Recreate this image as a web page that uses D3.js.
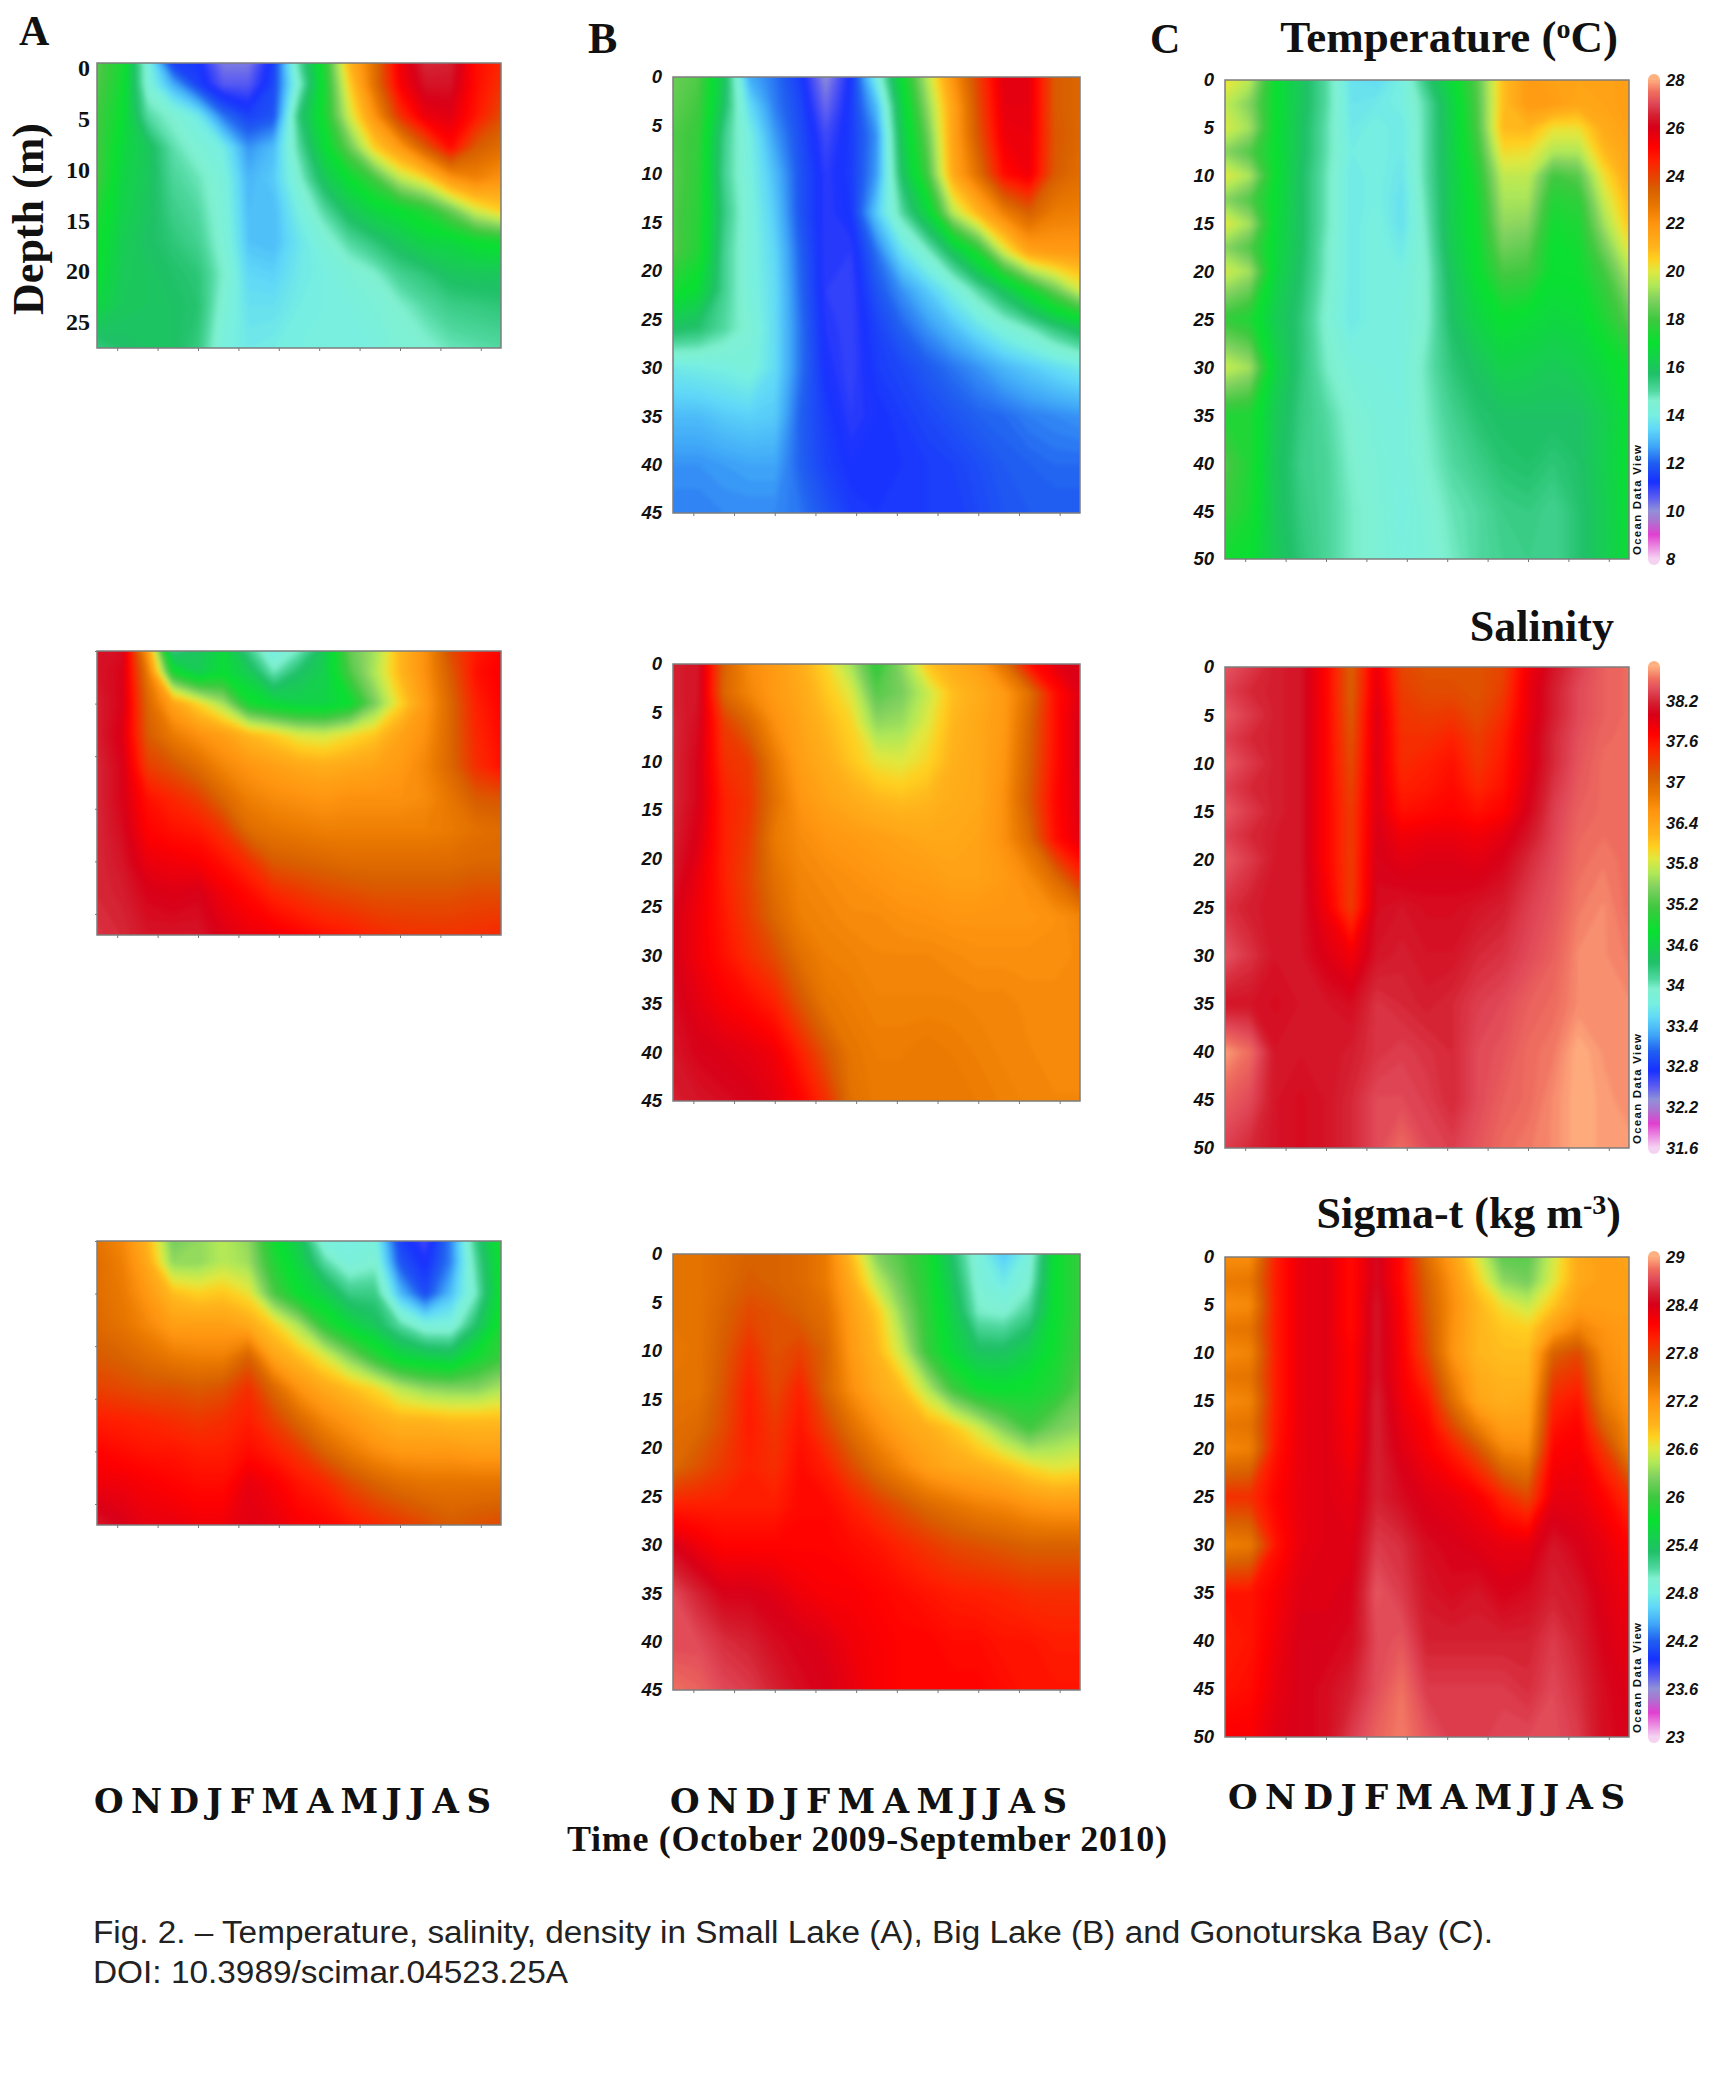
<!DOCTYPE html>
<html>
<head>
<meta charset="utf-8">
<title>Temperature, salinity, density</title>
<script src="https://d3js.org/d3.v7.min.js"></script>
<style>
  html, body { margin: 0; background: #fff; }
  svg { display: block; }
  .serif { font-family: "Liberation Serif", serif; font-weight: bold; fill: #111; }
  .tick-label text { font-family: "Liberation Sans", sans-serif; font-weight: bold; font-style: italic; font-size: 18.5px; fill: #111; }
  .tick-serif text { font-family: "Liberation Serif", serif; font-weight: bold; font-style: normal; font-size: 24px; }
  .bar-label text { font-size: 16.5px; }
  .caption { font-family: "Liberation Sans", sans-serif; font-size: 31px; fill: #222; }
</style>
</head>
<body>
<div id="chart"></div>
<script>
// ******* Data *******
const months = ["O","N","D","J","F","M","A","M","J","J","A","S"];
const depthsA = [0,2,5,8,11,14,17,20,23,27];
const depthsB = [0,3,6,10,14,18,22,26,30,35,40,45];
const depthsC = [0,2.5,5,7.5,10,12.5,15,17.5,20,25,30,35,40,45,50];

const tempA = [
  [18.3,17.3,14.2,11.5,11.3,10.2,10.2,11.5,15,17.5,21,23,25.5,26.6,26.5,25,24.5],
  [18.2,17.2,14.3,12.8,11.5,10.6,10.6,11.6,14.5,17.3,20.5,23,25.3,26.3,26.3,25,24.3],
  [18,17,15,14.5,13.8,12.2,11.5,11.8,15.5,17.3,19.8,22,24.3,25.6,25.8,24.8,23.8],
  [18,16.7,16,14.9,14.4,13.9,12.5,13,15,16.8,18.5,20.5,21.8,23.5,25,23.5,23],
  [18,16.5,16,15.1,14.8,14.2,12.9,13.2,14.5,16,17,18,19.5,20.3,21.8,22.4,22],
  [17.5,16.4,15.9,15.3,15,14.3,13,13,14,15,16,16.6,17,17.5,18.5,19.8,20.5],
  [17.2,16.2,15.8,15.5,15.2,14.4,13.1,13,13.7,14.3,15,15.5,16,16.5,16.6,17,17.2],
  [17,16.1,15.9,15.7,15.5,14.6,13.4,13.3,13.8,14,14.3,14.6,15.2,15.5,15.9,16,16],
  [16.6,16,15.9,15.8,15.6,14.4,13.6,13.6,13.9,14,14.1,14.3,14.6,15,15.3,15.4,15.5],
  [15.4,15.7,15.8,15.8,15.4,14.1,13.8,13.9,14,14,14,14.1,14.4,14.5,14.8,14.9,15]
];
const tempB = [
  [18.5,18.2,16,12.8,12.2,11.4,10,11.3,14,17,19.5,22,24,25.8,25.7,23.5,23.2],
  [18.4,18,15.8,13.5,12.3,11.6,10.4,11.4,13,16.5,19,21.5,23.8,25.7,25.7,23.5,23.2],
  [18.2,17.8,15.3,14,12.6,11.7,10.8,11.4,12.5,16.2,18.5,21.5,23.6,25.5,25.6,23.6,23.2],
  [18.3,17.7,15.2,14.1,13,11.8,11,11.4,12.6,15.8,18,21.3,23,25,25.5,23.5,23],
  [18.2,17.6,15.4,14.2,13.2,11.8,11,11.3,13.2,15,16.6,19.5,21,22.5,23.4,22.6,22.5],
  [18.2,17.5,15.2,14.2,13.4,12,11,11,12.2,13.6,14.6,16,17.5,19.8,21.5,21.8,21.8],
  [17.3,16.8,15.2,14.2,13.5,12.1,11,10.9,11.8,12.5,13.2,14,15,16,17.2,18.5,19.8],
  [15.8,15.6,15,14.4,13.5,12.2,11.1,10.9,11.5,12,12.5,13,13.6,14.2,14.7,15.4,16],
  [13.8,13.9,14,14.2,13.5,12.2,11.2,10.9,11.4,11.6,11.9,12.2,12.5,12.9,13.2,13.5,13.8],
  [13,13,13.2,13.3,13.2,12,11.4,11,11.2,11.4,11.6,11.8,12,12.1,12.3,12.4,12.5],
  [12.5,12.5,12.6,12.7,12.7,12,11.5,11.2,11.2,11.3,11.4,11.5,11.7,11.9,12,12.1,12.1],
  [12.3,12.3,12.4,12.4,12.4,12.2,11.8,11.4,11.3,11.3,11.4,11.4,11.6,11.8,11.9,11.9,11.9]
];
const tempC = [
  [20.2,19.5,17,16,15,13.6,13.5,14,15.5,16.8,18.3,20.8,21.8,21.6,21.5,21.5,21.7],
  [19.6,18.8,17,16,15,13.7,13.8,14,15,16.5,18.2,20.8,21.8,21.7,21.4,21.5,21.7],
  [19.9,19.2,17,15.9,14.9,13.8,14,13.8,15,16.4,18.1,20.9,21,20.2,20.2,21.3,21.6],
  [18.9,18.2,17,15.9,14.9,13.9,14,13.8,15,16.4,17.8,20.3,20.2,19.4,19.4,20.9,21.5],
  [20,19.3,17,15.8,14.8,13.8,14,13.7,15,16.3,17.5,19.6,19.6,18,18.3,20.2,21.4],
  [18.9,18.2,16.9,15.8,14.8,13.8,14,13.6,14.9,16.3,17.3,19.3,19.3,17.5,17.7,19.7,21],
  [20,19.2,16.8,15.8,14.8,13.8,14.1,13.6,14.8,16.3,17.2,19,18.9,17.2,17.4,19.2,20.7],
  [18.9,18.2,16.7,15.8,14.7,13.8,14.1,13.8,14.7,16.2,17.1,18.6,18.4,17,17.2,18.6,20.1],
  [19.8,19.2,16.6,15.7,14.7,13.8,14.1,14,14.6,16,17,18.1,18,17,17.1,18,19.4],
  [17.8,17.4,16.2,15.5,14.5,13.8,14.1,14.1,14.6,15.8,16.5,17,16.8,16.6,16.7,17.4,18.3],
  [19.7,19.2,16.5,15.5,14.7,14.2,14.1,14.1,14.8,15.5,15.9,16.4,16.3,16.1,16.3,16.7,17.2],
  [17.5,17.4,16.1,15.4,15,14.5,14.2,14.1,14.7,15.2,15.6,15.8,15.8,15.8,15.8,16.3,16.9],
  [18.2,17.4,16,15.3,15.1,14.6,14.3,14.1,14.6,15,15.3,15.6,15.7,15.5,15.7,16.3,17],
  [17.9,17.3,16,15.4,15.1,14.7,14.4,14,14.4,14.8,15,15.3,15.4,15.2,15.6,16.2,16.9],
  [17.2,17,16.1,15.5,15.1,14.7,14.4,14.1,14.3,14.7,15,15.2,15.3,15.2,15.6,16.2,16.8]
];

const salA = [
  [38.1,38.05,36.5,34.2,34.4,34.7,34.2,33.7,34,34.5,35.3,35.6,36.2,36.6,37.2,37.55,37.7],
  [38.1,38,36.8,34.9,34.5,34.75,34.5,34,34.35,34.55,35.2,35.65,36.2,36.6,37.1,37.6,37.75],
  [38.15,38,37,36.4,36,35.6,34.9,34.7,34.6,34.6,34.8,35.4,36,36.5,37,37.5,37.7],
  [38.15,37.95,37.1,36.8,36.6,36.45,36.2,36.05,35.85,35.8,35.95,36.1,36.4,36.6,37,37.45,37.65],
  [38.2,38,37.3,37.15,36.95,36.7,36.55,36.45,36.35,36.3,36.35,36.4,36.5,36.7,37,37.4,37.6],
  [38.2,38,37.6,37.45,37.3,37,36.75,36.65,36.6,36.55,36.6,36.6,36.6,36.65,36.85,37.1,37.15],
  [38.2,38.05,37.7,37.6,37.55,37.35,36.95,36.85,36.8,36.75,36.75,36.75,36.75,36.75,36.8,36.9,36.95],
  [38.2,38.1,37.85,37.8,37.75,37.6,37.4,37.1,37.05,37,36.95,36.95,36.95,36.95,36.95,37,37],
  [38.2,38.15,38,37.95,38,37.8,37.65,37.45,37.35,37.25,37.2,37.15,37.15,37.15,37.15,37.2,37.2],
  [38.25,38.2,38.1,38.1,38.1,37.95,37.85,37.8,37.7,37.6,37.55,37.45,37.4,37.38,37.38,37.4,37.45]
];
const salB = [
  [38.15,38.1,37.05,36.65,36.5,36.3,36,35.6,35.05,35.5,36.1,36.3,36.45,36.9,37.6,37.9,38],
  [38.15,38.1,37,36.7,36.5,36.35,36.1,35.85,35.25,35.4,35.75,36.15,36.3,36.5,36.9,37.6,37.95],
  [38.2,38.05,37.3,37,36.6,36.4,36.2,36,35.5,35.55,35.85,36.2,36.35,36.5,37,37.6,38],
  [38.2,38,37.4,37.3,36.8,36.45,36.3,36.1,35.9,35.85,36,36.25,36.35,36.55,37.05,37.6,38],
  [38.2,38,37.5,37.35,36.9,36.55,36.4,36.3,36.2,36.15,36.2,36.3,36.35,36.6,37.1,37.65,37.95],
  [38.15,37.95,37.5,37.3,36.8,36.65,36.55,36.5,36.45,36.4,36.35,36.35,36.4,36.6,36.95,37.6,37.9],
  [38.1,37.85,37.5,37.25,36.9,36.7,36.65,36.6,36.55,36.5,36.48,36.42,36.42,36.5,36.65,36.95,37.4],
  [38,37.8,37.55,37.3,37,36.75,36.7,36.65,36.65,36.6,36.58,36.55,36.55,36.55,36.55,36.6,36.7],
  [38,37.8,37.6,37.4,37.2,36.9,36.75,36.72,36.68,36.68,36.68,36.65,36.62,36.62,36.62,36.62,36.65],
  [38.05,37.9,37.75,37.65,37.5,37.15,36.85,36.78,36.72,36.72,36.72,36.72,36.7,36.7,36.66,36.66,36.66],
  [38.1,38,37.95,37.9,37.8,37.5,37.15,36.85,36.78,36.78,36.82,36.78,36.74,36.7,36.68,36.66,36.66],
  [38.15,38.1,38.05,38,37.9,37.7,37.4,36.9,36.8,36.8,36.8,36.82,36.78,36.74,36.7,36.68,36.68]
];
const salC = [
  [38.4,38.28,38.15,38.1,37.7,37.05,37.85,37.25,37.15,37.15,37.15,37.25,37.8,38.1,38.3,38.45,38.5],
  [38.32,38.2,38.15,38.1,37.7,37.05,37.9,37.3,37.2,37.2,37.15,37.3,37.85,38.15,38.35,38.45,38.5],
  [38.42,38.28,38.15,38.1,37.7,37.1,37.95,37.35,37.3,37.35,37.2,37.4,37.85,38.15,38.35,38.45,38.5],
  [38.32,38.2,38.15,38.1,37.7,37.15,37.95,37.4,37.4,37.5,37.3,37.5,37.9,38.2,38.38,38.48,38.5],
  [38.42,38.28,38.15,38.1,37.7,37.2,37.95,37.42,37.5,37.6,37.35,37.55,37.9,38.2,38.4,38.5,38.5],
  [38.32,38.2,38.15,38.1,37.7,37.25,37.95,37.5,37.55,37.65,37.45,37.6,37.95,38.25,38.42,38.5,38.5],
  [38.42,38.28,38.15,38.1,37.7,37.3,37.95,37.6,37.65,37.7,37.6,37.7,38,38.3,38.45,38.5,38.5],
  [38.32,38.2,38.13,38.1,37.7,37.3,37.98,37.8,37.85,37.85,37.8,37.9,38.1,38.32,38.48,38.52,38.5],
  [38.42,38.28,38.12,38.1,37.7,37.3,38,37.9,37.95,37.95,37.9,38,38.2,38.35,38.5,38.55,38.5],
  [38.25,38.15,38.1,38.1,37.8,37.3,38.05,38.1,38.05,38.05,38.1,38.15,38.3,38.4,38.55,38.6,38.5],
  [38.4,38.25,38.1,38.1,37.95,37.8,38.1,38.15,38.1,38.1,38.2,38.25,38.35,38.45,38.6,38.6,38.55],
  [38.1,38.1,38.05,38.1,38.1,38.05,38.25,38.2,38.15,38.2,38.3,38.35,38.45,38.5,38.6,38.6,38.6],
  [38.65,38.5,38.1,38.1,38.1,38.15,38.25,38.3,38.25,38.2,38.35,38.4,38.5,38.55,38.7,38.62,38.6],
  [38.45,38.35,38.1,38.05,38.1,38.2,38.35,38.35,38.3,38.2,38.35,38.45,38.5,38.6,38.7,38.65,38.6],
  [38.3,38.2,38.1,38.05,38.1,38.2,38.35,38.5,38.35,38.3,38.4,38.5,38.55,38.6,38.7,38.65,38.65]
];

const sigmaA = [
  [27.45,27.3,26.9,26.2,26.3,26.45,26.3,25.75,25.45,24.85,24.8,24.85,24.05,23.85,24.3,25.2,25.8],
  [27.5,27.35,27,26.3,26.3,26.45,26.35,25.85,25.55,25.1,24.85,24.95,24.15,23.95,24.3,25.1,25.75],
  [27.5,27.4,27.15,26.85,26.75,26.8,26.65,26.05,25.7,25.5,25.2,25.2,24.5,24.1,24.5,25,25.75],
  [27.55,27.45,27.3,27.1,27.1,27.1,27,26.75,26.4,25.9,25.6,25.4,25.1,24.85,24.85,25.3,25.8],
  [27.65,27.6,27.5,27.4,27.35,27.35,27.6,27.05,26.85,26.6,26.25,25.9,25.6,25.5,25.45,25.75,25.95],
  [27.8,27.75,27.7,27.7,27.65,27.7,27.9,27.55,27.2,27,26.85,26.7,26.45,26.3,26.25,26.25,26.4],
  [28,27.98,27.95,27.9,27.85,27.9,28,27.8,27.55,27.3,27.15,27,26.9,26.9,26.85,26.85,26.85],
  [28.15,28.1,28.05,28.05,28,28,28.1,28,27.85,27.6,27.4,27.25,27.15,27.15,27.15,27.1,27.1],
  [28.25,28.25,28.2,28.15,28.1,28.1,28.3,28.2,28.05,27.95,27.75,27.6,27.5,27.45,27.45,27.45,27.45],
  [28.5,28.4,28.3,28.3,28.25,28.25,28.35,28.3,28.2,28.15,28.05,27.95,27.85,27.75,27.65,27.7,27.75]
];
const sigmaB = [
  [27.45,27.45,27.55,27.6,27.6,27.55,27.4,26.85,26.25,26.05,25.8,25.3,24.85,24.55,24.85,25.7,25.95],
  [27.45,27.45,27.55,27.65,27.6,27.55,27.4,27,26.5,26.15,25.85,25.4,24.9,24.75,24.95,25.7,25.95],
  [27.45,27.45,27.6,27.75,27.7,27.6,27.5,27.1,26.8,26.3,25.9,25.5,25,24.95,25.15,25.7,25.95],
  [27.42,27.45,27.65,27.9,27.7,27.8,27.6,27.15,26.9,26.5,25.95,25.6,25.35,25.35,25.5,25.75,26],
  [27.45,27.45,27.7,28,27.75,27.98,27.6,27.25,27,26.85,26.45,26,25.75,25.7,25.75,25.85,26.1],
  [27.5,27.55,27.75,28.02,27.85,28.05,27.8,27.5,27.25,27.05,26.95,26.8,26.55,26.25,26,26.2,26.3],
  [27.55,27.7,27.85,27.98,27.9,28.1,28,27.75,27.5,27.3,27.1,27,26.95,26.85,26.7,26.6,26.65],
  [28,28,28,28,28,28.12,28.12,28,27.85,27.7,27.55,27.45,27.35,27.3,27.2,27.15,27.15],
  [28.4,28.25,28.15,28.15,28.15,28.15,28.15,28.1,28.05,27.95,27.85,27.75,27.7,27.65,27.6,27.6,27.6],
  [28.7,28.55,28.4,28.4,28.35,28.25,28.2,28.2,28.15,28.1,28.05,28,27.98,27.95,27.9,27.9,27.9],
  [28.7,28.7,28.6,28.55,28.45,28.4,28.35,28.25,28.2,28.15,28.15,28.1,28.1,28.05,28.05,28,28],
  [28.85,28.8,28.7,28.65,28.55,28.45,28.4,28.3,28.2,28.15,28.15,28.15,28.15,28.1,28.05,28.05,28.05]
];
const sigmaC = [
  [27.25,27.25,28,28.3,28.35,28.1,28.45,28.1,27.5,27.1,26.6,26.1,26.1,26.55,27,27.1,27.05],
  [27.4,27.42,28,28.3,28.35,28.1,28.45,28.1,27.6,27.2,26.75,26.3,26.2,26.6,27,27.1,27.1],
  [27.25,27.28,28,28.3,28.35,28.1,28.5,28.15,27.65,27.25,26.9,26.65,26.5,26.8,27.1,27.1,27.1],
  [27.42,27.45,28,28.3,28.35,28.1,28.5,28.18,27.7,27.22,26.9,26.8,26.75,27.1,27.35,27.2,27.12],
  [27.28,27.32,28,28.3,28.35,28.15,28.5,28.2,27.75,27.2,26.9,26.85,26.85,27.6,27.75,27.25,27.15],
  [27.42,27.45,28,28.3,28.35,28.15,28.5,28.22,27.9,27.35,26.98,26.9,26.9,27.8,27.9,27.32,27.18],
  [27.28,27.32,28,28.3,28.35,28.15,28.55,28.25,28.05,27.5,27.05,26.95,27,27.95,28.05,27.4,27.2],
  [27.42,27.45,28.02,28.3,28.35,28.18,28.55,28.3,28.15,27.75,27.35,27.1,27.1,28.05,28.15,27.6,27.28],
  [27.3,27.35,28.05,28.3,28.35,28.2,28.55,28.35,28.2,28,27.7,27.3,27.25,28.15,28.2,27.85,27.35],
  [27.9,27.9,28.15,28.3,28.35,28.3,28.55,28.45,28.35,28.3,28.2,27.95,27.75,28.3,28.3,28.15,27.9],
  [27.35,27.4,28.05,28.3,28.35,28.35,28.65,28.6,28.45,28.4,28.35,28.3,28.3,28.5,28.4,28.3,28.15],
  [28.05,28.05,28.2,28.35,28.35,28.4,28.75,28.65,28.5,28.45,28.5,28.4,28.45,28.55,28.5,28.35,28.25],
  [28,28.05,28.25,28.4,28.4,28.45,28.7,28.75,28.55,28.55,28.55,28.55,28.55,28.65,28.55,28.4,28.3],
  [28.05,28.1,28.3,28.4,28.45,28.55,28.72,28.85,28.65,28.65,28.65,28.65,28.6,28.7,28.6,28.45,28.35],
  [28.2,28.2,28.35,28.4,28.45,28.65,28.8,28.88,28.75,28.65,28.65,28.7,28.7,28.72,28.65,28.45,28.4]
];

const tempTicks = [28,26,24,22,20,18,16,14,12,10,8];
const salTicks = [38.2,37.6,37,36.4,35.8,35.2,34.6,34,33.4,32.8,32.2,31.6];
const sigmaTicks = [29,28.4,27.8,27.2,26.6,26,25.4,24.8,24.2,23.6,23];

// ******* Colour bar of the plots, as fractions of each variable's range *******
const rampStops = [0,.05,.08,.1,.125,.16,.2,.235,.27,.3,.33,.35,.385,.45,.5,.54,.57,.6,.625,.65,.7,.735,.77,.8,.83,.86,.9,.925,.95,.975,1];
const rampColors = ["#f6d2f2","#e040d0","#a878d0","#9090d8","#6060f0","#1830ff","#2060f0","#40a8f8","#60d8f8","#78f0e0","#80f0d0","#50d8a0","#20c068","#08e030","#40c840","#80d060","#b0e858","#e0e840","#ffd020","#ffb41c","#ff9410","#e87800","#d86000","#e84000","#ff2000","#ff0000","#d80018","#d42030","#e04858","#f07060","#ffb080"];
const ramp = d3.scaleLinear().domain(rampStops).range(rampColors).clamp(true);

// ******* Layout *******
const width = 1732, height = 2089;
const colX = {A: [97, 501], B: [673, 1080], C: [1225, 1629]};
const tempRange = [8, 28], salRange = [31.6, 38.7], sigmaRange = [23, 29];
const panels = [
  {col: "A", y: [63, 348],    depths: depthsA, values: tempA,  range: tempRange,  labels: "serif"},
  {col: "B", y: [77, 513],    depths: depthsB, values: tempB,  range: tempRange,  labels: "sans"},
  {col: "C", y: [80, 559],    depths: depthsC, values: tempC,  range: tempRange,  labels: "sans", bar: tempTicks},
  {col: "A", y: [651, 935],   depths: depthsA, values: salA,   range: salRange,   labels: "none"},
  {col: "B", y: [664, 1101],  depths: depthsB, values: salB,   range: salRange,   labels: "sans"},
  {col: "C", y: [667, 1148],  depths: depthsC, values: salC,   range: salRange,   labels: "sans", bar: salTicks},
  {col: "A", y: [1241, 1525], depths: depthsA, values: sigmaA, range: sigmaRange, labels: "none"},
  {col: "B", y: [1254, 1690], depths: depthsB, values: sigmaB, range: sigmaRange, labels: "sans"},
  {col: "C", y: [1257, 1737], depths: depthsC, values: sigmaC, range: sigmaRange, labels: "sans", bar: sigmaTicks}
];

const svg = d3.select("#chart").append("svg")
    .attr("width", width)
    .attr("height", height)
    .style("background", "#fff");

const defs = svg.append("defs");
const blur = defs.append("filter").attr("id", "soft")
    .attr("x", "-5%").attr("y", "-5%").attr("width", "110%").attr("height", "110%")
    .attr("color-interpolation-filters", "sRGB");
blur.append("feGaussianBlur").attr("stdDeviation", 2.2);

panels.forEach(function(p, i) { drawPanel(p, i); });

function drawPanel(p, i) {
  const [x0, x1] = colX[p.col];
  const [y0, y1] = p.y;
  const nRows = p.values.length, nCols = p.values[0].length;
  const maxDepth = p.depths[p.depths.length - 1];

  const x = d3.scaleLinear().domain([0, nCols - 1]).range([x0, x1]);
  const y = d3.scaleLinear().domain([0, maxDepth]).range([y0, y1]);
  const rowDepth = d3.scaleLinear().domain(d3.range(nRows)).range(p.depths);
  const frac = d3.scaleLinear().domain(p.range).range([0, 1]);
  const time = d3.scaleLinear().domain([0, 10]).range([x0, x1]);

  // d3.contours puts sample k at k + 0.5
  const project = d3.geoPath(d3.geoTransform({
    point: function(gx, gy) { this.stream.point(x(gx - 0.5), y(rowDepth(gy - 0.5))); }
  }));

  const step = (p.range[1] - p.range[0]) / 200;
  const thresholds = d3.range(p.range[0], p.range[1], step);
  const contours = d3.contours().size([nCols, nRows]).thresholds(thresholds)(p.values.flat());

  defs.append("clipPath").attr("id", "clip" + i)
    .append("rect").attr("x", x0).attr("y", y0).attr("width", x1 - x0).attr("height", y1 - y0);

  svg.append("g").attr("clip-path", "url(#clip" + i + ")")
    .append("g").attr("filter", "url(#soft)")
    .selectAll("path")
    .data(contours)
    .enter().append("path")
    .attr("d", project)
    .attr("fill", function(d) { return ramp(frac(d.value + step / 2)); });

  svg.append("rect")
    .attr("x", x0).attr("y", y0).attr("width", x1 - x0).attr("height", y1 - y0)
    .attr("fill", "none").attr("stroke", "#7d7d7d").attr("stroke-width", 1.5);

  // small month ticks under the frame
  svg.append("g").attr("transform", "translate(0," + y1 + ")")
    .call(d3.axisBottom(time).tickValues(d3.range(0.5, 10)).tickSize(3).tickFormat(""))
    .call(function(g) { g.select(".domain").remove(); g.selectAll("line").attr("stroke", "#777"); });

  // the top-left panel's labels sit a little tighter than its frame
  const isSerif = p.labels === "serif";
  const labelY = isSerif ? d3.scaleLinear().domain([0, 25]).range([68, 322]) : y;
  const left = svg.append("g").attr("transform", "translate(" + x0 + ",0)");
  left.attr("class", isSerif ? "tick-label tick-serif" : "tick-label");
  left.call(d3.axisLeft(labelY).tickValues(d3.range(0, maxDepth + 1, 5)).tickSize(p.labels === "none" ? 2 : 0).tickPadding(isSerif ? 7 : 11)
      .tickFormat(p.labels === "none" ? "" : d3.format("d")))
    .call(function(g) { g.select(".domain").remove(); g.selectAll("line").attr("stroke", "#777"); });
  left.attr("font-family", null).attr("font-size", null);

  if (p.bar) drawBar(p, y0, y1);
}

function drawBar(p, y0, y1) {
  const y = d3.scaleLinear().domain(p.range).range([y1, y0]);
  const bx = 1648, bw = 12;
  const levels = d3.range(0, 1, 1 / 240);
  const id = "barclip" + y0;

  defs.append("clipPath").attr("id", id).append("rect")
    .attr("x", bx).attr("y", y0 - 6).attr("width", bw).attr("height", y1 - y0 + 12).attr("rx", 6);

  const g = svg.append("g").attr("clip-path", "url(#" + id + ")");
  g.selectAll("rect")
    .data(levels)
    .enter().append("rect")
    .attr("x", bx).attr("width", bw)
    .attr("y", function(d) { return y(p.range[0] + (d + 1 / 240) * (p.range[1] - p.range[0])) - 0.5; })
    .attr("height", (y1 - y0) / 240 + 1)
    .attr("fill", function(d) { return ramp(d); });
  g.append("rect").attr("x", bx).attr("width", bw).attr("y", y0 - 6).attr("height", 6).attr("fill", ramp(1));
  g.append("rect").attr("x", bx).attr("width", bw).attr("y", y1).attr("height", 6).attr("fill", ramp(0));

  svg.append("g").attr("class", "tick-label bar-label")
    .attr("transform", "translate(" + (bx + bw) + ",0)")
    .call(d3.axisRight(y).tickValues(p.bar).tickSize(0).tickPadding(6).tickFormat(function(d) { return +d.toFixed(1); }))
    .call(function(g) { g.select(".domain").remove(); })
    .attr("font-family", null).attr("font-size", null);

  svg.append("text")
    .attr("transform", "translate(1641," + (y1 - 4) + ") rotate(-90)")
    .attr("font-family", "Liberation Sans, sans-serif").attr("font-weight", "bold").attr("font-size", 11.5)
    .attr("fill", "#111").attr("textLength", 110).text("Ocean Data View");
}

// ******* Titles and labels *******
function serif(x, y, size, str, anchor) {
  return svg.append("text").attr("class", "serif")
      .attr("x", x).attr("y", y).attr("font-size", size)
      .attr("text-anchor", anchor || "start").text(str);
}
serif(19, 45, 42, "A");
serif(588, 53, 44, "B");
serif(1150, 53, 42, "C");

const t1 = serif(1618, 52, 45, "Temperature (", "end");
t1.append("tspan").attr("font-size", 28).attr("dy", -14).text("o");
t1.append("tspan").attr("dy", 14).text("C)");
serif(1614, 641, 44, "Salinity", "end");
const t3 = serif(1621, 1228, 44, "Sigma-t (kg m", "end");
t3.append("tspan").attr("font-size", 28).attr("dy", -14).text("-3");
t3.append("tspan").attr("dy", 14).text(")");

serif(0, 0, 44, "Depth (m)", "middle").attr("transform", "translate(43,219) rotate(-90)");

[[94, 1813], [670, 1813], [1228, 1809]].forEach(function(at) {
  svg.append("text")
    .attr("x", at[0]).attr("y", at[1])
    .attr("font-family", "DejaVu Serif, serif").attr("font-weight", "bold").attr("font-size", 34)
    .attr("fill", "#111").attr("textLength", 397).attr("lengthAdjust", "spacing")
    .text(months.join(" "));
});

serif(867, 1851, 36, "Time (October 2009-September 2010)", "middle").attr("textLength", 600);

svg.append("text").attr("class", "caption").attr("x", 93).attr("y", 1943)
    .attr("textLength", 1400).attr("lengthAdjust", "spacingAndGlyphs")
    .text("Fig. 2. – Temperature, salinity, density in Small Lake (A), Big Lake (B) and Gonoturska Bay (C).");
svg.append("text").attr("class", "caption").attr("x", 93).attr("y", 1983)
    .attr("textLength", 475).attr("lengthAdjust", "spacingAndGlyphs")
    .text("DOI: 10.3989/scimar.04523.25A");
</script>
</body>
</html>
